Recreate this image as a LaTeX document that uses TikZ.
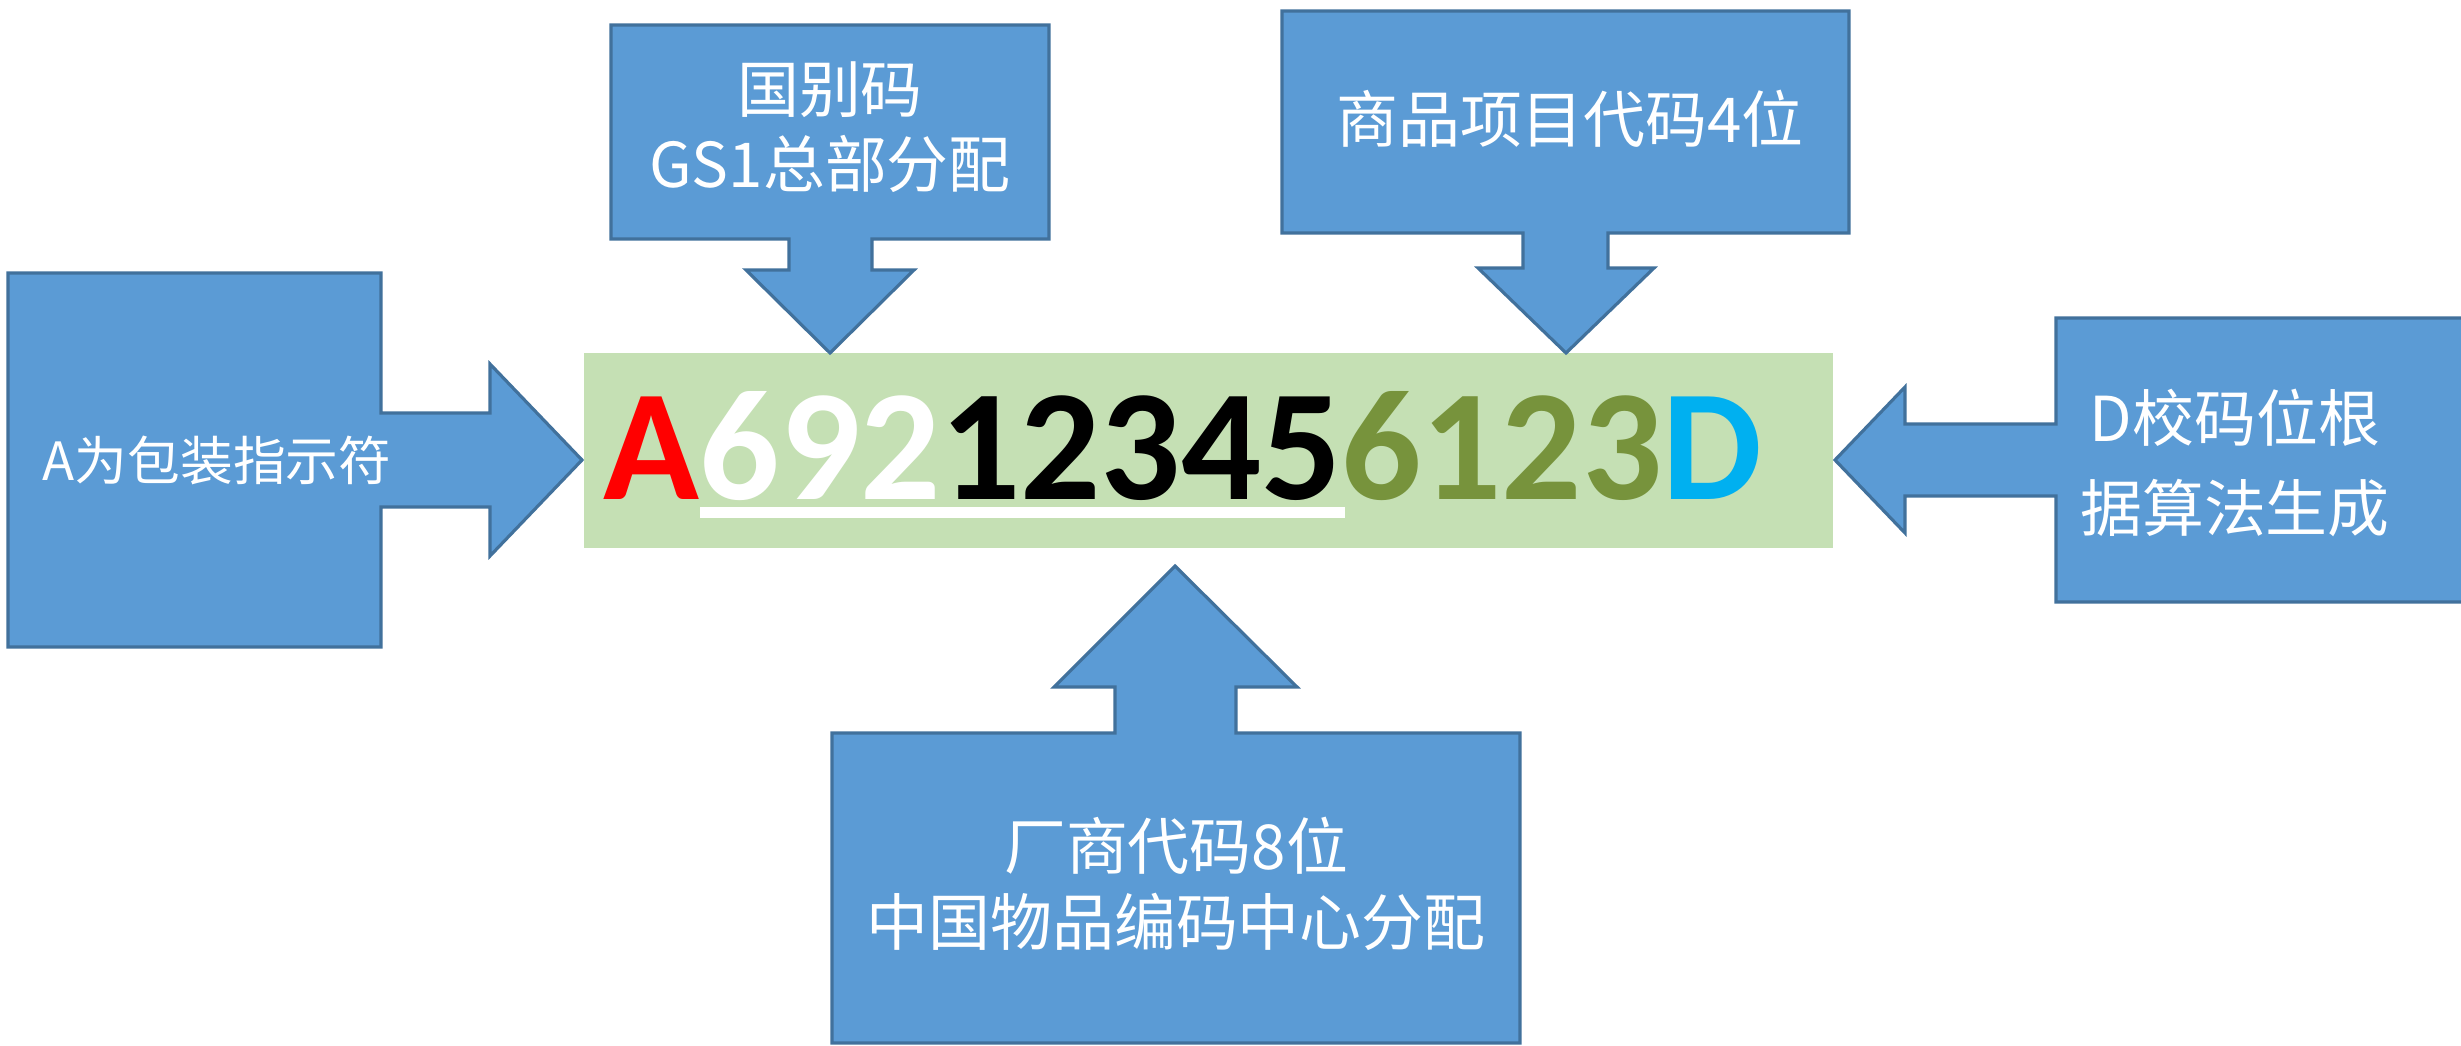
\documentclass[tikz,border=0pt]{standalone}
\usepackage{fontspec}
\newfontfamily\cjk{Noto Sans CJK SC}
\newfontfamily\codefont{Carlito}[UprightFont={* Bold},BoldFont={* Bold}]
\definecolor{cblue}{HTML}{5B9BD5}
\definecolor{cborder}{HTML}{41719C}
\definecolor{cgreen}{HTML}{C5E0B4}
\definecolor{cred}{HTML}{FF0000}
\definecolor{colive}{HTML}{77933C}
\definecolor{ccyan}{HTML}{00B0F0}
\begin{document}
\begin{tikzpicture}[x=0.01cm,y=-0.01cm,
  callout/.style={fill=cblue,draw=cborder,line width=0.9pt,line join=miter},
  label/.style={text=white,align=center,inner sep=0pt,font=\cjk\fontsize{17.6pt}{21.3pt}\selectfont},
  codebox/.style={fill=cgreen,draw=none}]
\useasboundingbox (0,0) rectangle (2461,1046);
\fill[white] (0,0) rectangle (2461,1046);
% central code bar
\fill[codebox] (584,353) rectangle (1833,548);
\coordinate (codeleft) at (584,460);
\coordinate (coderight) at (1833,460);
\node[inner sep=0pt,anchor=center,font=\codefont\fontsize{45pt}{50pt}\selectfont] (code) at (1183,446)
  {\textcolor{cred}{A}\textcolor{white}{692}\textcolor{black}{12345}\textcolor{colive}{6123}\textcolor{ccyan}{D}};
\fill[white] (700,507) rectangle (1345,518);
% left callout
\draw[callout] (8,273) -- (381,273) -- (381,413) -- (490,413) -- (490,364) -- (582,460) -- (490,556) -- (490,507) -- (381,507) -- (381,647) -- (8,647) -- cycle;
\node[label,font=\cjk\fontsize{15pt}{18pt}\selectfont] (lefttext) at (217,460) {A为包装指示符};
% top-left callout
\draw[callout] (611,25) -- (1049,25) -- (1049,239) -- (872,239) -- (872,270) -- (914,270) -- (830,353) -- (746,270) -- (789,270) -- (789,239) -- (611,239) -- cycle;
\node[label] (tltext) at (830,127) {国别码\\GS1总部分配};
% top-right callout
\draw[callout] (1282,11) -- (1849,11) -- (1849,233) -- (1608,233) -- (1608,268) -- (1654,268) -- (1566,353) -- (1478,268) -- (1523,268) -- (1523,233) -- (1282,233) -- cycle;
\node[label] (trtext) at (1570,119) {商品项目代码4位};
% right callout
\draw[callout] (2475,318) -- (2056,318) -- (2056,424) -- (1905,424) -- (1905,387) -- (1835,460) -- (1905,533) -- (1905,496) -- (2056,496) -- (2056,602) -- (2475,602);
\node[label,font=\cjk\fontsize{17.6pt}{25.5pt}\selectfont] (rtext) at (2235,463) {D校码位根\\据算法生成};
% bottom callout
\draw[callout] (832,733) -- (1115,733) -- (1115,687) -- (1054,687) -- (1175,566) -- (1297,687) -- (1236,687) -- (1236,733) -- (1520,733) -- (1520,1043) -- (832,1043) -- cycle;
\node[label,font=\cjk\fontsize{17.6pt}{21.8pt}\selectfont] (btext) at (1176,884) {厂商代码8位\\中国物品编码中心分配};
\end{tikzpicture}
\end{document}
